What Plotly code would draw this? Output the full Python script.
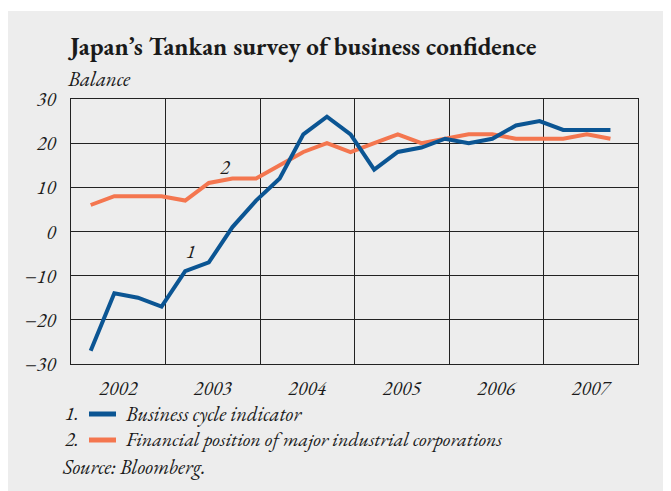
import plotly.graph_objects as go

# ---- data ----
years = [2002]*4 + [2003]*4 + [2004]*4 + [2005]*4 + [2006]*4 + [2007]*3
quarters = [1, 2, 3, 4]*5 + [1, 2, 3]
business_cycle = [-27, -14, -15, -17, -9, -7, 1, 7, 12, 22, 26, 22,
                  14, 18, 19, 21, 20, 21, 24, 25, 23, 23, 23]
financial_position = [6, 8, 8, 8, 7, 11, 12, 12, 15, 18, 20, 18,
                      20, 22, 20, 21, 22, 22, 21, 21, 21, 22, 21]
year_labels = ["2002", "2003", "2004", "2005", "2006", "2007"]
y_ticks = [-30, -20, -10, 0, 10, 20, 30]
y_tick_labels = ["\u221230", "\u221220", "\u221210", "0", "10", "20", "30"]

# position of each survey within its year (roughly mid-last-month of quarter)
x_vals = [y + (3*q - 0.5)/12 for y, q in zip(years, quarters)]

BLUE = "#0b5593"
ORANGE = "#f4764f"
BG = "#ededed"
TXT = "#1a1a1a"
SERIF = "EB Garamond"

W, H = 671, 491
OFF = 8  # page body margin
L, R, T, B = 63, 41, 91, 135
PW, PH = W - L - R, H - T - B

def px(x):  # screen x -> paper
    return (x - OFF - L) / PW

def py(y):  # screen y -> paper
    return (H - B - (y - OFF)) / PH

fig = go.Figure()
fig.add_trace(go.Scatter(x=x_vals, y=financial_position, mode="lines",
                         line=dict(color=ORANGE, width=4), showlegend=False,
                         hoverinfo="skip"))
fig.add_trace(go.Scatter(x=x_vals, y=business_cycle, mode="lines",
                         line=dict(color=BLUE, width=4), showlegend=False,
                         hoverinfo="skip"))

yr_nums = [int(v) for v in year_labels]
fig.update_xaxes(range=[2002, 2008], tickvals=[v + 0.5 for v in yr_nums],
                 ticktext=year_labels, showgrid=False, ticks="",
                 zeroline=False, showline=True, linecolor="#222", linewidth=1.3,
                 mirror=True, ticklabelstandoff=6,
                 tickfont=dict(family=SERIF, size=20, color=TXT, style="italic"),
                 minor=dict(tickvals=yr_nums[1:], showgrid=True,
                            gridcolor="#222", gridwidth=1, ticks=""))
fig.update_yaxes(range=[-30, 30], tickvals=y_ticks, ticktext=y_tick_labels,
                 showgrid=True, gridcolor="#222", gridwidth=1, ticks="",
                 zeroline=False, showline=True, linecolor="#222", linewidth=1.3,
                 mirror=True, ticklabelstandoff=10,
                 tickfont=dict(family=SERIF, size=20, color=TXT, style="italic"))

def note(x, y, text, size, **kw):
    return dict(x=px(x), y=py(y), xref="paper", yref="paper", xanchor="left",
                yanchor="middle", showarrow=False, text=text,
                font=dict(family=SERIF, size=size, color=TXT), **kw)

annotations = [
    note(65, 46, "<b>Japan\u2019s Tankan survey of business confidence</b>", 25),
    note(65, 78, "<i>Balance</i>", 21),
    dict(x=2003.27, y=-4.5, xref="x", yref="y", showarrow=False,
         text="<i>1</i>", font=dict(family=SERIF, size=20, color=TXT)),
    dict(x=2003.63, y=14.5, xref="x", yref="y", showarrow=False,
         text="<i>2</i>", font=dict(family=SERIF, size=20, color=TXT)),
    note(63, 413, "<i>1.</i>", 20),
    note(123, 413, "<i>Business cycle indicator</i>", 20.5),
    note(63, 439, "<i>2.</i>", 20),
    note(123, 439, "<i>Financial position of major industrial corporations</i>", 20),
    note(60, 466, "<i>Source: Bloomberg.</i>", 20.5),
]

shapes = [
    dict(type="rect", xref="paper", yref="paper", x0=px(0), x1=px(W + OFF),
         y0=py(11), y1=py(0), fillcolor="white", line=dict(width=0),
         layer="below"),
    dict(type="line", xref="paper", yref="paper", x0=px(89), x1=px(116),
         y0=py(414), y1=py(414), line=dict(color=BLUE, width=5)),
    dict(type="line", xref="paper", yref="paper", x0=px(89), x1=px(116),
         y0=py(440), y1=py(440), line=dict(color=ORANGE, width=5)),
]

fig.update_layout(width=W, height=H, margin=dict(l=L, r=R, t=T, b=B),
                  paper_bgcolor=BG, plot_bgcolor=BG,
                  annotations=annotations, shapes=shapes, showlegend=False)

fig.write_html("out.html")
